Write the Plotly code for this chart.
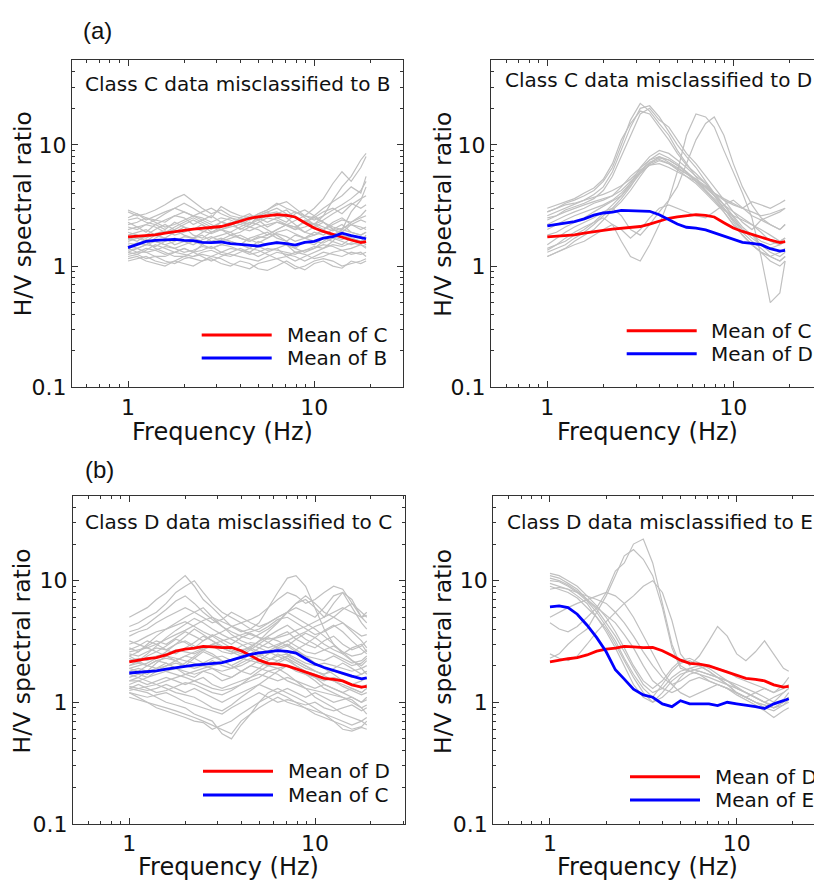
import plotly.graph_objects as go

# ---------------- data ----------------
freq_hz = [1.0, 1.12, 1.25, 1.4, 1.58, 1.78, 2.0, 2.24, 2.5, 2.8, 3.16, 3.55, 4.0, 4.5,
           5.0, 5.6, 6.3, 7.1, 7.9, 8.9, 10.0, 11.2, 12.6, 14.1, 15.8, 17.8, 19.0]

mean_C = [1.74, 1.76, 1.78, 1.81, 1.87, 1.93, 1.97, 2.02, 2.06, 2.08, 2.12, 2.22, 2.35, 2.48,
          2.55, 2.62, 2.66, 2.62, 2.54, 2.28, 2.06, 1.93, 1.82, 1.72, 1.64, 1.56, 1.59]
mean_B = [1.42, 1.52, 1.60, 1.63, 1.65, 1.66, 1.63, 1.62, 1.57, 1.56, 1.58, 1.53, 1.51, 1.49,
          1.46, 1.52, 1.56, 1.53, 1.49, 1.57, 1.60, 1.70, 1.75, 1.87, 1.78, 1.72, 1.68]
mean_D = [2.15, 2.22, 2.28, 2.33, 2.45, 2.63, 2.74, 2.79, 2.88, 2.86, 2.81, 2.83, 2.65, 2.42,
          2.22, 2.09, 2.06, 1.99, 1.88, 1.78, 1.68, 1.57, 1.54, 1.50, 1.39, 1.33, 1.35]
mean_E = [6.1, 6.2, 6.0, 5.3, 4.3, 3.4, 2.6, 1.85, 1.55, 1.28, 1.15, 1.10, 0.97, 0.92,
          1.03, 0.97, 0.97, 0.97, 0.94, 1.00, 0.97, 0.95, 0.92, 0.89, 0.97, 1.03, 1.07]

gray_a1 = [
    [2.8, 2.6, 2.7, 2.9, 3.2, 3.6, 3.9, 3.4, 3.0, 2.7, 2.9, 2.6, 2.5, 2.4, 2.6, 2.8, 3.0, 2.7, 2.5, 2.3, 2.2, 2.6, 3.5, 4.5, 5.5, 7.5, 8.5],
    [2.5, 2.7, 2.4, 2.6, 2.8, 3.0, 3.3, 3.0, 2.7, 2.5, 3.1, 2.8, 2.6, 2.5, 2.7, 2.9, 3.3, 3.0, 2.8, 2.6, 3.0, 3.6, 4.8, 6.0, 5.0, 6.5, 8.0],
    [2.2, 2.3, 2.5, 2.4, 2.3, 2.6, 2.5, 2.2, 2.4, 2.6, 2.3, 2.2, 2.5, 2.7, 2.4, 2.6, 2.7, 2.9, 2.5, 2.3, 2.6, 3.0, 3.4, 3.8, 4.5, 4.0, 5.5],
    [2.0, 2.1, 1.9, 2.2, 2.0, 2.3, 2.1, 2.0, 2.2, 1.9, 2.1, 2.3, 2.0, 2.2, 2.4, 2.1, 2.3, 2.2, 2.0, 2.4, 2.2, 2.0, 2.3, 2.5, 2.2, 2.4, 2.3],
    [1.8, 1.9, 2.0, 1.8, 1.7, 1.9, 2.1, 1.8, 1.7, 1.9, 2.0, 1.8, 1.9, 2.1, 2.0, 1.8, 2.0, 2.2, 2.1, 1.9, 2.1, 2.3, 2.0, 1.9, 2.2, 2.1, 2.0],
    [1.6, 1.7, 1.6, 1.8, 1.7, 1.5, 1.6, 1.7, 1.8, 1.6, 1.7, 1.6, 1.5, 1.7, 1.8, 1.9, 1.7, 1.6, 1.8, 1.7, 1.9, 1.8, 2.0, 2.2, 1.9, 1.8, 1.9],
    [1.5, 1.4, 1.5, 1.6, 1.5, 1.4, 1.5, 1.6, 1.5, 1.4, 1.5, 1.6, 1.5, 1.4, 1.6, 1.5, 1.6, 1.5, 1.4, 1.6, 1.5, 1.7, 1.6, 1.5, 1.7, 1.6, 1.5],
    [1.35, 1.4, 1.3, 1.35, 1.25, 1.3, 1.4, 1.3, 1.35, 1.45, 1.3, 1.4, 1.35, 1.3, 1.45, 1.35, 1.4, 1.5, 1.3, 1.35, 1.4, 1.5, 1.45, 1.35, 1.4, 1.5, 1.4],
    [1.2, 1.25, 1.15, 1.2, 1.1, 1.05, 1.15, 1.2, 1.25, 1.2, 1.3, 1.25, 1.2, 1.15, 1.1, 1.2, 1.3, 1.25, 1.2, 1.1, 1.2, 1.3, 1.25, 1.2, 1.3, 1.25, 1.3],
    [1.1, 1.15, 1.2, 1.1, 1.05, 1.1, 1.2, 1.15, 1.1, 1.2, 1.15, 1.05, 1.0, 0.95, 1.05, 1.1, 1.15, 1.05, 0.95, 1.0, 1.1, 1.15, 1.1, 1.0, 1.05, 1.1, 1.15],
    [2.9, 2.7, 2.5, 2.3, 2.1, 2.2, 2.4, 2.6, 2.8, 3.0, 2.7, 2.5, 2.3, 2.2, 2.5, 2.7, 2.8, 2.5, 2.2, 1.9, 1.8, 2.0, 2.2, 2.4, 2.3, 2.5, 2.6],
    [1.3, 1.4, 1.5, 1.7, 1.9, 2.1, 2.3, 2.5, 2.3, 2.1, 2.0, 1.9, 1.7, 1.6, 1.7, 1.8, 2.0, 2.2, 2.4, 2.6, 2.5, 2.3, 2.1, 2.0, 1.9, 1.8, 1.9],
    [1.9, 1.8, 1.6, 1.4, 1.3, 1.2, 1.2, 1.3, 1.5, 1.7, 1.8, 1.9, 2.1, 2.3, 2.2, 2.0, 1.8, 1.6, 1.4, 1.3, 1.4, 1.6, 1.8, 2.0, 2.3, 2.6, 2.9],
    [1.7, 1.6, 1.8, 2.0, 2.2, 2.0, 1.8, 1.7, 1.9, 2.1, 2.3, 2.5, 2.4, 2.2, 2.6, 2.8, 2.5, 2.3, 2.7, 2.9, 2.6, 2.3, 2.0, 1.8, 1.7, 1.6, 1.8],
    [1.4, 1.3, 1.3, 1.2, 1.2, 1.3, 1.4, 1.3, 1.2, 1.1, 1.2, 1.3, 1.4, 1.3, 1.2, 1.3, 1.4, 1.2, 1.1, 1.2, 1.3, 1.4, 1.6, 2.0, 2.8, 3.5, 4.5],
    [2.3, 2.1, 2.2, 2.4, 2.7, 3.0, 2.8, 2.6, 2.4, 2.2, 2.0, 2.1, 2.2, 2.4, 2.7, 2.9, 3.2, 3.4, 3.0, 2.6, 2.4, 2.6, 2.9, 3.2, 3.6, 4.2, 5.0],
    [1.65, 1.75, 1.7, 1.85, 1.95, 1.8, 1.9, 2.05, 1.95, 1.85, 2.0, 2.15, 2.05, 1.95, 2.1, 2.2, 2.3, 2.15, 2.0, 2.1, 2.25, 2.1, 1.95, 2.05, 2.2, 2.0, 2.1],
    [1.45, 1.55, 1.5, 1.45, 1.6, 1.7, 1.6, 1.5, 1.65, 1.75, 1.6, 1.7, 1.8, 1.65, 1.55, 1.7, 1.85, 1.75, 1.6, 1.7, 1.8, 1.9, 1.75, 1.65, 1.8, 1.7, 1.75],
    [1.25, 1.3, 1.4, 1.35, 1.45, 1.4, 1.3, 1.35, 1.45, 1.4, 1.5, 1.45, 1.35, 1.25, 1.3, 1.4, 1.35, 1.3, 1.25, 1.35, 1.45, 1.4, 1.5, 1.45, 1.55, 1.5, 1.45],
    [2.1, 2.0, 2.2, 2.1, 1.9, 2.0, 2.2, 2.4, 2.2, 2.0, 2.3, 2.2, 2.4, 2.6, 2.5, 2.3, 2.5, 2.6, 2.8, 2.5, 2.2, 2.4, 2.7, 3.0, 3.3, 3.0, 3.2],
    [1.15, 1.2, 1.1, 1.05, 1.0, 1.1, 1.05, 1.0, 1.1, 1.15, 1.05, 1.0, 1.1, 1.05, 0.95, 0.92, 1.0, 1.1, 1.0, 0.93, 1.05, 1.1, 1.0, 0.96, 1.1, 1.05, 1.1],
    [1.55, 1.5, 1.65, 1.6, 1.5, 1.6, 1.75, 1.7, 1.6, 1.55, 1.65, 1.8, 1.7, 1.6, 1.75, 1.7, 1.9, 2.0, 1.85, 1.7, 1.6, 1.55, 1.7, 1.6, 1.5, 1.6, 1.65],
    [2.4, 2.5, 2.3, 2.2, 2.4, 2.6, 2.8, 2.6, 2.5, 2.3, 2.5, 2.4, 2.2, 2.1, 2.3, 2.5, 2.4, 2.2, 2.1, 2.3, 2.5, 2.8, 3.0, 2.7, 3.2, 3.6, 3.8],
    [1.3, 1.25, 1.35, 1.5, 1.4, 1.3, 1.25, 1.2, 1.3, 1.35, 1.25, 1.2, 1.3, 1.4, 1.35, 1.25, 1.15, 1.2, 1.3, 1.25, 1.15, 1.2, 1.3, 1.35, 1.25, 1.3, 1.2],
]

gray_a2 = [
    [2.6, 2.8, 3.0, 3.2, 3.5, 3.9, 4.5, 6.0, 9.0, 14.0, 20.0, 21.0, 17.0, 13.0, 10.0, 8.0, 6.5, 5.0, 4.0, 3.2, 2.5, 2.0, 1.8, 1.6, 1.5, 1.6, 1.7],
    [2.8, 3.0, 3.3, 3.5, 3.8, 4.2, 5.0, 6.5, 10.0, 16.0, 22.0, 19.0, 15.0, 12.0, 9.0, 7.0, 5.5, 4.2, 3.5, 2.8, 2.2, 1.8, 1.5, 1.3, 1.2, 1.3, 1.4],
    [2.4, 2.6, 2.9, 3.1, 3.3, 3.6, 4.2, 5.5, 8.0, 12.0, 18.0, 20.0, 16.0, 14.0, 11.0, 8.5, 7.0, 5.5, 4.5, 3.5, 2.8, 2.3, 2.0, 2.4, 2.6, 2.8, 3.0],
    [3.0, 3.2, 3.4, 3.6, 4.0, 4.4, 5.2, 7.0, 11.0, 15.0, 19.0, 18.0, 14.0, 11.0, 8.5, 6.8, 5.8, 4.8, 3.8, 3.0, 2.4, 2.0, 1.7, 1.5, 1.4, 1.5, 1.6],
    [1.3, 1.4, 1.5, 1.7, 1.9, 2.2, 2.6, 3.0, 3.6, 4.5, 6.0, 7.5, 8.5, 7.8, 7.0, 6.0, 5.0, 4.2, 3.6, 3.0, 2.4, 1.9, 1.6, 1.4, 1.2, 1.1, 1.2],
    [1.4, 1.5, 1.6, 1.8, 2.0, 2.3, 2.7, 3.2, 3.8, 4.8, 6.5, 8.0, 9.0, 8.5, 7.5, 6.5, 5.5, 4.8, 4.0, 3.2, 2.6, 2.1, 1.8, 1.5, 1.3, 1.2, 1.3],
    [1.2, 1.3, 1.4, 1.6, 1.8, 2.0, 2.4, 2.9, 3.4, 4.2, 5.5, 7.0, 8.0, 7.5, 6.8, 6.0, 5.2, 4.4, 3.8, 3.0, 2.3, 1.8, 1.5, 1.3, 1.1, 1.0, 1.1],
    [2.0, 2.2, 2.4, 2.6, 2.8, 3.0, 3.2, 3.5, 4.0, 4.8, 6.0, 7.2, 7.8, 7.5, 6.8, 6.0, 5.0, 4.2, 3.5, 2.9, 2.6, 2.4, 2.2, 2.0, 1.8, 1.6, 1.7],
    [2.5, 2.6, 2.8, 3.0, 3.2, 3.4, 3.6, 3.8, 4.2, 5.0, 6.0, 6.8, 7.0, 6.5, 6.0, 5.5, 5.0, 4.5, 4.0, 3.5, 3.2, 3.0, 3.4, 3.2, 3.0, 3.3, 3.5],
    [2.2, 2.4, 2.6, 2.8, 3.0, 3.3, 3.5, 3.8, 4.5, 5.5, 6.5, 7.5, 8.0, 7.2, 6.5, 5.8, 5.0, 4.5, 3.8, 3.2, 2.8, 2.5, 2.2, 1.9, 1.6, 1.5, 1.6],
    [1.8, 1.9, 2.1, 2.3, 2.5, 2.8, 3.1, 3.4, 3.8, 4.6, 5.8, 6.8, 7.4, 7.0, 6.2, 5.5, 4.8, 4.0, 3.4, 2.8, 2.2, 1.8, 1.5, 1.3, 1.2, 1.1, 1.2],
    [2.8, 3.0, 3.2, 3.3, 3.5, 3.7, 3.9, 4.2, 4.6, 5.2, 6.2, 7.0, 7.6, 7.0, 6.4, 5.8, 5.2, 4.6, 4.0, 3.6, 3.3, 3.0, 2.8, 2.6, 2.7, 2.9, 3.0],
    [1.35, 1.5, 1.7, 1.9, 2.1, 2.3, 2.5, 2.2, 1.6, 1.2, 1.1, 1.5, 2.2, 3.5, 6.0, 12.0, 18.0, 17.0, 14.0, 9.0, 6.0, 4.0, 2.5, 1.2, 0.5, 0.6, 1.1],
    [1.5, 1.7, 1.9, 2.1, 2.3, 2.5, 2.8, 3.0, 2.6, 2.0, 1.8, 2.2, 2.8, 3.5, 4.5, 7.0, 11.0, 15.0, 17.0, 12.0, 7.0, 4.5, 3.2, 2.5, 2.2, 2.0, 2.2],
    [1.2, 1.3, 1.4, 1.5, 1.6, 1.8, 2.0, 2.2, 2.0, 1.7, 2.0, 2.5, 3.0, 3.2, 3.0, 2.8, 2.6, 2.5, 2.8, 3.2, 3.5, 3.0, 2.6, 2.4, 2.2, 2.0, 2.2],
]

gray_b1 = [
    [5.0, 5.5, 6.0, 7.0, 8.0, 9.5, 11.0, 9.0, 7.0, 6.0, 5.0, 4.2, 3.8, 4.0, 4.5, 6.0, 8.0, 10.5, 11.0, 9.0, 6.0, 4.0, 3.0, 2.5, 2.2, 2.0, 2.2],
    [4.2, 4.5, 5.0, 5.5, 6.5, 8.0, 9.0, 10.0, 8.0, 6.5, 5.5, 5.0, 4.5, 4.8, 5.2, 6.0, 7.0, 8.0, 7.5, 6.5, 7.0, 8.0, 9.0, 8.5, 6.5, 5.0, 5.5],
    [3.5, 3.8, 4.0, 4.5, 5.0, 5.5, 6.0, 5.5, 5.0, 4.5, 4.8, 5.5, 5.0, 4.5, 4.2, 4.5, 5.0, 5.5, 6.0, 5.5, 5.0, 6.0, 7.5, 8.0, 6.0, 4.5, 4.0],
    [3.0, 3.2, 3.5, 3.8, 4.0, 4.3, 4.6, 4.2, 3.8, 3.5, 3.8, 4.2, 4.5, 4.0, 3.8, 4.2, 4.8, 5.0, 4.5, 4.0, 3.6, 3.8, 4.2, 4.5, 4.0, 3.5, 3.6],
    [2.8, 2.6, 2.9, 3.2, 3.0, 3.4, 3.8, 3.5, 3.2, 3.6, 3.3, 3.0, 3.4, 3.7, 3.4, 3.1, 3.5, 3.8, 3.3, 3.0, 2.8, 3.2, 3.5, 3.0, 2.7, 2.9, 3.2],
    [2.5, 2.4, 2.6, 2.8, 2.7, 3.0, 3.2, 2.9, 2.7, 3.0, 2.8, 2.6, 2.9, 3.1, 3.0, 2.8, 3.0, 3.2, 2.9, 2.6, 2.5, 2.7, 2.9, 2.6, 2.4, 2.5, 2.7],
    [2.2, 2.3, 2.2, 2.4, 2.5, 2.7, 2.6, 2.5, 2.7, 2.9, 2.6, 2.5, 2.7, 2.8, 2.6, 2.5, 2.7, 2.9, 2.6, 2.4, 2.3, 2.2, 2.4, 2.2, 2.0, 2.1, 2.3],
    [2.0, 2.1, 2.0, 2.2, 2.3, 2.2, 2.4, 2.3, 2.1, 2.3, 2.4, 2.2, 2.3, 2.5, 2.4, 2.2, 2.4, 2.5, 2.3, 2.1, 2.0, 2.1, 2.0, 1.9, 1.8, 1.9, 2.0],
    [1.8, 1.9, 1.8, 1.9, 2.0, 2.1, 2.0, 1.9, 2.0, 2.2, 2.0, 1.9, 2.1, 2.3, 2.2, 2.0, 2.1, 2.3, 2.1, 1.9, 1.8, 1.7, 1.8, 1.7, 1.6, 1.7, 1.8],
    [1.6, 1.7, 1.6, 1.7, 1.8, 1.9, 1.8, 1.7, 1.8, 1.9, 1.7, 1.6, 1.8, 2.0, 1.9, 1.8, 1.9, 2.0, 1.8, 1.7, 1.6, 1.5, 1.6, 1.5, 1.4, 1.5, 1.6],
    [1.5, 1.5, 1.4, 1.5, 1.6, 1.5, 1.4, 1.5, 1.6, 1.4, 1.3, 1.4, 1.5, 1.6, 1.7, 1.6, 1.5, 1.6, 1.5, 1.4, 1.3, 1.4, 1.3, 1.2, 1.3, 1.2, 1.3],
    [1.35, 1.3, 1.25, 1.3, 1.4, 1.3, 1.2, 1.3, 1.2, 1.1, 1.0, 1.1, 1.2, 1.3, 1.4, 1.3, 1.2, 1.3, 1.2, 1.1, 1.2, 1.1, 1.0, 1.05, 1.1, 1.0, 1.1],
    [1.2, 1.15, 1.1, 1.15, 1.2, 1.1, 1.0, 0.95, 0.9, 0.85, 0.8, 0.9, 1.0, 1.1, 1.2, 1.1, 1.0, 1.05, 1.0, 0.95, 1.0, 0.9, 0.85, 0.9, 0.95, 0.85, 0.9],
    [1.1, 1.05, 1.0, 0.95, 0.9, 0.85, 0.8, 0.75, 0.7, 0.65, 0.6, 0.55, 0.7, 0.8, 0.9, 1.0, 1.1, 1.0, 0.95, 0.9, 0.85, 0.8, 0.75, 0.7, 0.65, 0.7, 0.75],
    [1.3, 1.25, 1.2, 1.1, 1.0, 0.95, 0.9, 0.8, 0.75, 0.7, 0.55, 0.5, 0.65, 0.8, 1.0, 1.2, 1.3, 1.2, 1.1, 1.0, 0.9, 0.8, 0.7, 0.6, 0.58, 0.62, 0.6],
    [1.7, 1.6, 1.5, 1.4, 1.3, 1.2, 1.15, 1.1, 1.0, 0.9, 0.85, 0.95, 1.1, 1.25, 1.4, 1.6, 1.8, 2.0, 1.9, 1.7, 1.5, 1.3, 1.2, 1.1, 1.0, 0.9, 0.95],
    [2.4, 2.6, 3.0, 3.5, 4.0, 4.5, 5.0, 5.5, 6.0, 5.0, 4.2, 3.6, 3.2, 3.0, 2.8, 2.6, 2.4, 2.2, 2.0, 1.8, 1.7, 1.6, 1.5, 1.4, 1.3, 1.2, 1.3],
    [1.9, 2.0, 2.1, 2.3, 2.6, 3.0, 3.5, 4.0, 3.6, 3.2, 2.9, 2.7, 2.5, 2.8, 3.2, 3.8, 4.5, 5.5, 6.5, 7.0, 6.0, 5.0, 6.5, 8.0, 7.0, 5.0, 4.5],
    [1.4, 1.5, 1.6, 1.8, 2.0, 2.2, 2.4, 2.6, 2.8, 3.0, 3.2, 3.4, 3.6, 3.8, 4.0, 4.5, 5.0, 5.5, 5.0, 4.5, 4.0, 3.5, 3.0, 2.6, 2.2, 1.9, 1.7],
    [3.2, 3.0, 2.8, 2.6, 2.4, 2.3, 2.2, 2.1, 2.0, 1.9, 1.8, 1.9, 2.0, 2.2, 2.4, 2.6, 2.9, 3.2, 3.5, 3.8, 4.2, 4.5, 5.0, 4.5, 3.8, 3.2, 2.8],
    [1.25, 1.3, 1.35, 1.4, 1.5, 1.6, 1.7, 1.8, 1.9, 2.0, 2.1, 2.2, 2.3, 2.2, 2.1, 2.0, 1.9, 1.7, 1.5, 1.3, 1.1, 1.0, 0.9, 0.8, 0.75, 0.7, 0.65],
    [2.6, 2.7, 2.8, 3.0, 3.3, 3.6, 3.9, 4.3, 4.7, 5.0, 4.6, 4.2, 3.9, 3.6, 3.4, 3.3, 3.4, 3.6, 3.9, 4.2, 4.6, 5.0, 5.5, 6.0, 5.5, 5.0, 5.2],
    [2.3, 2.1, 2.4, 2.6, 2.9, 3.3, 3.1, 2.8, 3.2, 3.5, 3.1, 2.8, 2.6, 2.9, 3.2, 3.5, 3.9, 4.3, 3.8, 3.3, 3.0, 2.7, 2.5, 2.3, 2.1, 2.2, 2.4],
    [1.9, 1.8, 1.7, 1.9, 2.1, 1.9, 1.7, 1.6, 1.8, 1.7, 1.5, 1.6, 1.8, 2.0, 2.2, 2.5, 2.8, 3.0, 2.7, 2.4, 2.1, 1.9, 1.7, 1.5, 1.4, 1.3, 1.4],
    [2.7, 2.9, 3.2, 3.0, 2.7, 2.5, 2.8, 3.1, 3.5, 3.2, 2.8, 2.6, 2.4, 2.7, 3.0, 3.4, 3.2, 2.9, 3.3, 3.7, 3.4, 3.0, 2.7, 2.5, 2.8, 3.0, 2.6],
    [1.5, 1.6, 1.8, 2.1, 2.4, 2.2, 2.0, 2.3, 2.6, 2.4, 2.2, 2.0, 1.8, 1.7, 1.9, 2.2, 2.5, 2.3, 2.0, 1.8, 1.6, 1.4, 1.3, 1.2, 1.1, 1.0, 1.05],
    [1.3, 1.4, 1.3, 1.2, 1.25, 1.35, 1.45, 1.4, 1.3, 1.2, 1.15, 1.25, 1.4, 1.5, 1.6, 1.8, 1.7, 1.5, 1.4, 1.3, 1.25, 1.2, 1.15, 1.1, 1.05, 0.9, 0.8],
    [2.0, 2.2, 2.5, 2.9, 3.4, 3.9, 4.4, 4.9, 4.5, 4.0, 3.6, 3.3, 3.0, 2.7, 2.5, 2.3, 2.2, 2.4, 2.7, 3.0, 3.4, 3.9, 4.3, 3.8, 3.2, 2.7, 2.5],
    [1.7, 1.8, 2.0, 2.2, 2.1, 1.9, 2.1, 2.4, 2.7, 2.5, 2.2, 2.0, 2.2, 2.5, 2.8, 3.1, 2.8, 2.5, 2.2, 2.0, 1.8, 1.7, 1.9, 2.1, 1.9, 1.7, 1.8],
    [1.2, 1.1, 1.0, 0.9, 0.85, 0.8, 0.75, 0.7, 0.68, 0.6, 0.65, 0.7, 0.8, 0.9, 1.0, 1.1, 1.2, 1.1, 1.0, 0.9, 0.8, 0.75, 0.7, 0.65, 0.6, 0.63, 0.7],
    [3.8, 4.0, 4.4, 5.0, 5.8, 6.8, 7.5, 6.5, 5.5, 4.8, 4.2, 3.8, 3.5, 3.3, 3.6, 4.0, 4.6, 5.5, 6.5, 7.5, 6.5, 5.5, 5.0, 5.8, 6.5, 5.5, 5.0],
    [2.4, 2.2, 2.0, 1.9, 1.8, 1.7, 1.6, 1.5, 1.4, 1.3, 1.25, 1.3, 1.4, 1.6, 1.8, 2.0, 2.2, 2.4, 2.2, 2.0, 1.8, 1.65, 1.5, 1.35, 1.25, 1.15, 1.2],
]

gray_b2 = [
    [11.0, 10.5, 9.5, 8.5, 7.0, 5.8, 4.5, 3.5, 2.6, 1.9, 1.4, 1.2, 1.3, 1.6, 1.8, 1.9, 1.8, 1.7, 1.6, 1.5, 1.3, 1.2, 1.1, 1.0, 0.9, 1.0, 1.1],
    [10.0, 9.8, 9.0, 8.0, 6.8, 5.5, 4.2, 3.2, 2.3, 1.7, 1.3, 1.1, 1.4, 1.8, 2.1, 2.2, 2.0, 1.8, 1.6, 1.4, 1.2, 1.1, 1.0, 0.9, 0.85, 0.95, 1.0],
    [9.5, 9.0, 8.5, 7.5, 6.5, 5.0, 3.8, 2.8, 2.0, 1.4, 1.1, 1.0, 1.2, 1.5, 1.7, 1.8, 1.7, 1.5, 1.4, 1.3, 1.15, 1.05, 0.95, 0.85, 0.75, 0.85, 0.9],
    [11.5, 11.0, 10.0, 9.0, 7.5, 6.2, 5.0, 3.8, 2.8, 2.0, 1.5, 1.3, 1.5, 1.9, 2.2, 2.3, 2.1, 1.9, 1.7, 1.5, 1.4, 1.3, 1.2, 1.1, 1.0, 1.2, 1.3],
    [9.0, 8.5, 8.0, 7.2, 6.0, 5.0, 4.0, 3.0, 2.2, 1.6, 1.2, 1.0, 1.1, 1.3, 1.6, 1.9, 2.0, 1.8, 1.6, 1.4, 1.2, 1.1, 1.0, 0.95, 0.9, 0.95, 1.05],
    [10.5, 10.0, 9.2, 8.2, 7.0, 6.0, 5.2, 4.5, 3.6, 2.8, 2.0, 1.5, 1.3, 1.2, 1.3, 1.5, 1.6, 1.5, 1.4, 1.3, 1.2, 1.1, 1.0, 0.95, 0.9, 1.0, 1.1],
    [8.5, 8.8, 8.5, 8.0, 7.5, 7.0, 6.5, 5.5, 4.5, 3.5, 2.6, 2.0, 1.6, 1.4, 1.5, 1.7, 1.8, 1.7, 1.6, 1.5, 1.35, 1.2, 1.1, 1.0, 0.95, 1.05, 1.2],
    [5.0, 5.5, 6.0, 6.5, 7.0, 7.5, 8.0, 7.5, 6.5, 5.0, 3.5, 2.5, 1.8, 1.4, 1.2, 1.1, 1.2, 1.3, 1.4, 1.3, 1.2, 1.1, 1.2, 1.3, 1.2, 1.3, 1.4],
    [2.3, 2.5, 3.0, 3.5, 4.0, 5.5, 7.5, 11.0, 16.0, 18.0, 15.0, 11.0, 6.0, 2.8, 1.9, 1.8, 1.7, 1.6, 1.5, 1.4, 1.3, 1.2, 1.1, 1.0, 1.1, 1.2, 1.3],
    [4.5, 4.0, 3.8, 4.2, 5.0, 6.0, 8.0, 12.0, 14.0, 20.0, 22.0, 14.0, 6.5, 3.0, 2.0, 1.8, 1.9, 2.0, 1.9, 1.8, 1.6, 1.5, 1.4, 1.3, 1.2, 1.4, 1.6],
    [2.5, 2.3, 2.2, 2.4, 3.0, 3.8, 4.6, 5.5, 6.5, 7.5, 9.0, 10.0, 8.0, 4.7, 2.5, 2.0, 2.4, 3.2, 4.2, 3.5, 2.5, 2.2, 2.6, 3.2, 2.5, 1.9, 1.8],
]

x_tick_vals = [1, 10]
x_tick_text = ["1", "10"]
x_minor_vals = [0.6, 0.7, 0.8, 0.9, 2, 3, 4, 5, 6, 7, 8, 9, 20, 30]
y_tick_vals = [0.1, 1, 10]
y_tick_text = ["0.1", "1", "10"]
y_minor_vals = [0.2, 0.3, 0.4, 0.5, 0.6, 0.7, 0.8, 0.9, 2, 3, 4, 5, 6, 7, 8, 9, 20, 30, 40]

# ---------------- layout helpers ----------------
W, H = 814, 894
FONT = "DejaVu Sans"
GRAY = "#c0c0c0"
RED = "#ff0000"
BLUE = "#0000ff"
AX = "#333333"
TXT = "#111111"


def px(x):
    return x / W


def py(y):
    return 1 - y / H


panels = [
    dict(gray=gray_a1, red=mean_C, blue=mean_B, note="Class C data misclassified to B",
         red_name="Mean of C", blue_name="Mean of B",
         box=(72, 403, 61, 393), xr=(-0.301, 1.477), right_line=True,
         note_xy=(83, 85), leg=(201.7, 271.7, 340, 363.3, 285), xt=(222.5, 438), yt=(23, 217.5)),
    dict(gray=gray_a2, red=mean_C, blue=mean_D, note="Class C data misclassified to D",
         red_name="Mean of C", blue_name="Mean of D",
         box=(491, 814, 61, 393), xr=(-0.3027, 1.4339), right_line=False,
         note_xy=(503, 81), leg=(626.7, 696.7, 335.7, 359, 709), xt=(647.5, 438), yt=(443, 218)),
    dict(gray=gray_b1, red=mean_D, blue=mean_C, note="Class D data misclassified to C",
         red_name="Mean of D", blue_name="Mean of C",
         box=(73, 405, 503, 836), xr=(-0.303, 1.4846), right_line=True,
         note_xy=(83, 530), leg=(203, 273, 782.7, 806.7, 286), xt=(228, 880), yt=(22, 661)),
    dict(gray=gray_b2, red=mean_D, blue=mean_E, note="Class D data misclassified to E",
         red_name="Mean of D", blue_name="Mean of E",
         box=(493.3, 814, 503, 836), xr=(-0.3035, 1.414), right_line=False,
         note_xy=(505, 530), leg=(630, 700, 788.3, 811.7, 712.7), xt=(647.5, 880), yt=(443.5, 661)),
]

fig = go.Figure()
layout = dict(
    width=W, height=H, margin=dict(l=0, r=0, t=0, b=0),
    paper_bgcolor="white", plot_bgcolor="white", showlegend=False,
    font=dict(family=FONT, color=TXT),
)
annotations = []
shapes = []

for i, p in enumerate(panels, start=1):
    xa = "x" if i == 1 else f"x{i}"
    ya = "y" if i == 1 else f"y{i}"
    for curve in p["gray"]:
        fig.add_trace(go.Scatter(x=freq_hz, y=curve, mode="lines", xaxis=xa, yaxis=ya,
                                 line=dict(color=GRAY, width=1.2), hoverinfo="skip"))
    fig.add_trace(go.Scatter(x=freq_hz, y=p["red"], mode="lines", xaxis=xa, yaxis=ya,
                             name=p["red_name"], line=dict(color=RED, width=2.8)))
    fig.add_trace(go.Scatter(x=freq_hz, y=p["blue"], mode="lines", xaxis=xa, yaxis=ya,
                             name=p["blue_name"], line=dict(color=BLUE, width=2.8)))

    x0, x1, y0, y1 = p["box"]
    xkey = "xaxis" if i == 1 else f"xaxis{i}"
    ykey = "yaxis" if i == 1 else f"yaxis{i}"
    layout[xkey] = dict(
        type="log", range=list(p["xr"]), domain=[px(x0), px(x1)], anchor=ya,
        showline=True, linecolor=AX, linewidth=1.3, mirror="allticks",
        ticks="inside", ticklen=6, tickwidth=1.2, tickcolor=AX,
        tickmode="array", tickvals=x_tick_vals, ticktext=x_tick_text,
        minor=dict(ticks="inside", ticklen=3, tickwidth=1, tickcolor=AX,
                   tickmode="array", tickvals=x_minor_vals, showgrid=False),
        showgrid=False, zeroline=False,
        tickfont=dict(family=FONT, size=22, color=TXT),
    )
    layout[ykey] = dict(
        type="log", range=[-1, 1.699], domain=[py(y1), py(y0)], anchor=xa,
        showline=True, linecolor=AX, linewidth=1.3,
        mirror="allticks" if p["right_line"] else False,
        ticks="inside", ticklen=6, tickwidth=1.2, tickcolor=AX,
        tickmode="array", tickvals=y_tick_vals, ticktext=y_tick_text,
        minor=dict(ticks="inside", ticklen=3, tickwidth=1, tickcolor=AX,
                   tickmode="array", tickvals=y_minor_vals, showgrid=False),
        showgrid=False, zeroline=False,
        tickfont=dict(family=FONT, size=22, color=TXT),
    )

    # panel note
    annotations.append(dict(text=p["note"], x=px(p["note_xy"][0]), y=py(p["note_xy"][1]),
                            xref="paper", yref="paper", xanchor="left", yanchor="middle",
                            showarrow=False, font=dict(family=FONT, size=20, color=TXT)))
    # axis titles
    annotations.append(dict(text="Frequency (Hz)", x=px(p["xt"][0]), y=py(p["xt"][1]),
                            xref="paper", yref="paper", xanchor="center", yanchor="middle",
                            showarrow=False, font=dict(family=FONT, size=24, color=TXT)))
    annotations.append(dict(text="H/V spectral ratio", x=px(p["yt"][0]), y=py(p["yt"][1]),
                            xref="paper", yref="paper", xanchor="center", yanchor="middle",
                            textangle=-90, showarrow=False,
                            font=dict(family=FONT, size=23.5, color=TXT)))
    # legend (manual)
    lx0, lx1, ly_r, ly_b, ltx = p["leg"]
    for yy, col, name in ((ly_r, RED, p["red_name"]), (ly_b, BLUE, p["blue_name"])):
        shapes.append(dict(type="line", xref="paper", yref="paper", x0=px(lx0), x1=px(lx1),
                           y0=py(yy), y1=py(yy), line=dict(color=col, width=3)))
        annotations.append(dict(text=name, x=px(ltx), y=py(yy), xref="paper", yref="paper",
                                xanchor="left", yanchor="middle", showarrow=False,
                                font=dict(family=FONT, size=20, color=TXT)))

# panel labels
annotations.append(dict(text="(a)", x=px(97.5), y=py(31), xref="paper", yref="paper",
                        xanchor="center", yanchor="middle", showarrow=False,
                        font=dict(family="Liberation Sans", size=24, color=TXT)))
annotations.append(dict(text="(b)", x=px(99), y=py(476), xref="paper", yref="paper",
                        xanchor="center", yanchor="middle", showarrow=False,
                        font=dict(family="Liberation Sans", size=24, color=TXT)))

layout["annotations"] = annotations
layout["shapes"] = shapes
fig.update_layout(**layout)

fig.write_html("out.html")
